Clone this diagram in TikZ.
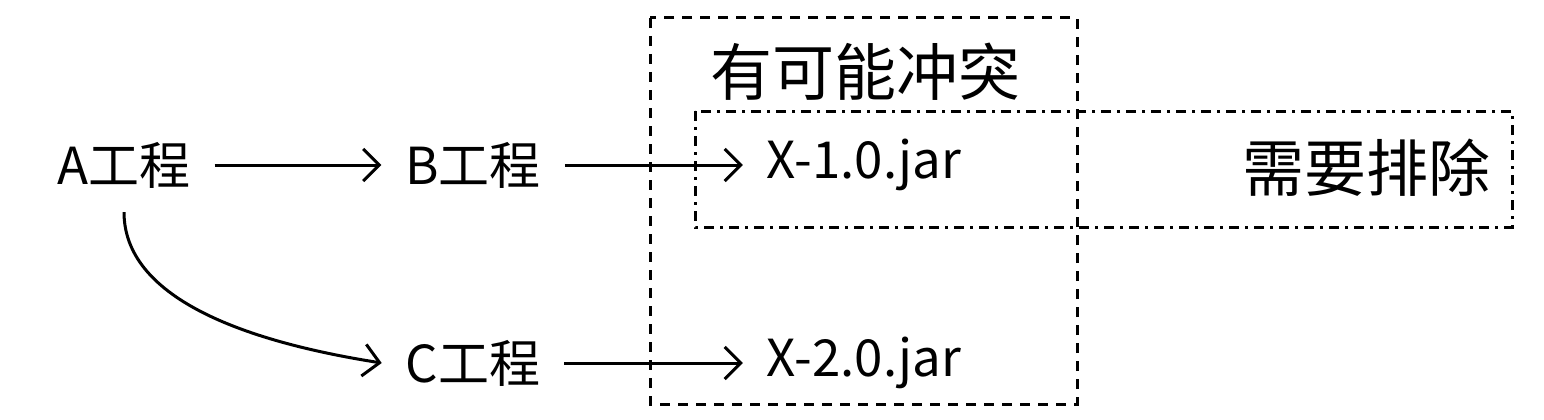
\documentclass[tikz,border=0pt]{standalone}
\usepackage{fontspec}
\setmainfont{Noto Sans CJK SC}
\usetikzlibrary{arrows.meta}
\begin{document}
\begin{tikzpicture}[x=1pt,y=-1pt,
  lbl/.style={inner sep=0pt,outer sep=24pt,font=\fontsize{51}{55}\selectfont},
  big/.style={inner sep=0pt,font=\fontsize{62}{66}\selectfont},
  conn/.style={line width=3pt,-{Straight Barb[length=16pt,width=32pt,line width=3pt]}},
  conflictbox/.style={line width=3pt,dash pattern=on 10pt off 8pt},
  excludebox/.style={line width=3pt,dash pattern=on 10pt off 6pt on 3pt off 6pt}]
\useasboundingbox (0,0) rectangle (1544,420);
\node[lbl] (A) at (124,165) {A工程};
\node[lbl] (B) at (473,165) {B工程};
\node[lbl] (C) at (473,363) {C工程};
\node[lbl] (X1) at (864,165) {X-1.0.jar};
\node[lbl] (X2) at (864,363) {X-2.0.jar};
\node[big] (conf) at (865,72) {有可能冲突};
\node[big] (excl) at (1366,168) {需要排除};
\draw[conflictbox] (650,18) rectangle (1077,404);
\draw[excludebox] (695,111) rectangle (1512,227);
\draw[conn] (A) -- (B);
\draw[conn] (B) -- (X1);
\draw[conn] (C) -- (X2);
\draw[conn] (A.south) .. controls +(0,85) and +(-140,-22) .. (C.west);
\end{tikzpicture}
\end{document}
